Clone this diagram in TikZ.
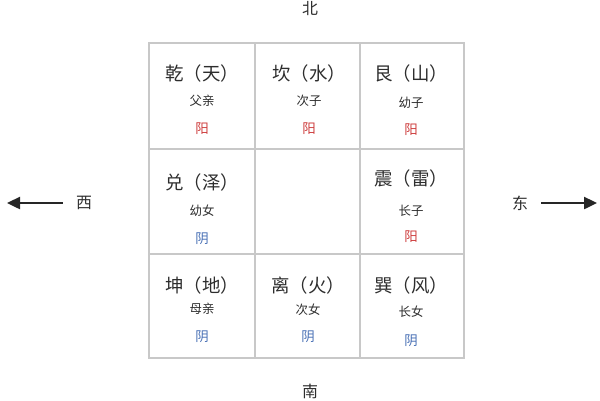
\documentclass[tikz,border=0pt]{standalone}
\usepackage{fontspec}
\setmainfont{Noto Sans CJK SC}
\usetikzlibrary{arrows.meta}
\definecolor{gridgray}{RGB}{200,200,200}
\definecolor{txt}{RGB}{45,45,45}
\definecolor{yangred}{RGB}{205,60,60}
\definecolor{yinblue}{RGB}{70,110,180}
\tikzset{
  big/.style={font=\fontsize{18.5}{21}\selectfont, text=txt, inner sep=0pt},
  sub/.style={font=\fontsize{12.5}{14}\selectfont, text=txt, inner sep=0pt},
  yang/.style={font=\fontsize{13.5}{15}\selectfont, text=yangred, inner sep=0pt},
  yin/.style={font=\fontsize{13.5}{15}\selectfont, text=yinblue, inner sep=0pt},
  dir/.style={font=\fontsize{16}{18}\selectfont, text=txt, inner sep=0pt},
  gridline/.style={draw=gridgray, line width=2.6bp},
  arr/.style={-{Triangle[length=13bp,width=12bp]}, line width=2.4bp, draw=black!85}
}
\begin{document}
\begin{tikzpicture}[x=1bp,y=-1bp]
\useasboundingbox (0,0) rectangle (600,400);
% grid
\draw[gridline] (149,43) rectangle (464,358);
\draw[gridline] (255,43) -- (255,358);
\draw[gridline] (360,43) -- (360,358);
\draw[gridline] (149,149) -- (464,149);
\draw[gridline] (149,254) -- (464,254);
% row 1
\node[big] (qian) at (202,73) {乾（天）};
\node[sub] (qianr) at (202,101) {父亲};
\node[yang] (qiany) at (202,129) {阳};
\node[big] (kan) at (309,73) {坎（水）};
\node[sub] (kanr) at (309,101) {次子};
\node[yang] (kany) at (309,129) {阳};
\node[big] (gen) at (411,73) {艮（山）};
\node[sub] (genr) at (411,103) {幼子};
\node[yang] (geny) at (411,130) {阳};
% row 2
\node[big] (dui) at (202,182) {兑（泽）};
\node[sub] (duir) at (202,211) {幼女};
\node[yin] (duiy) at (202,239) {阴};
\node[big] (zhen) at (411,178) {震（雷）};
\node[sub] (zhenr) at (411,211) {长子};
\node[yang] (zheny) at (411,237) {阳};
% row 3
\node[big] (kun) at (202,285) {坤（地）};
\node[sub] (kunr) at (202,309) {母亲};
\node[yin] (kuny) at (202,337) {阴};
\node[big] (li) at (308,285) {离（火）};
\node[sub] (lir) at (308,310) {次女};
\node[yin] (liy) at (308,337) {阴};
\node[big] (xun) at (411,285) {巽（风）};
\node[sub] (xunr) at (411,312) {长女};
\node[yin] (xuny) at (411,341) {阴};
% directions
\node[dir] (north) at (310,9) {北};
\node[dir] (south) at (310,391) {南};
\node[dir] (west) at (84,203) {西};
\node[dir] (east) at (520,203) {东};
\coordinate (wend) at (7,203);
\coordinate (eend) at (597,203);
\draw[arr] ([xshift=-13bp]west.west) -- (wend);
\draw[arr] ([xshift=13bp]east.east) -- (eend);
\end{tikzpicture}
\end{document}
